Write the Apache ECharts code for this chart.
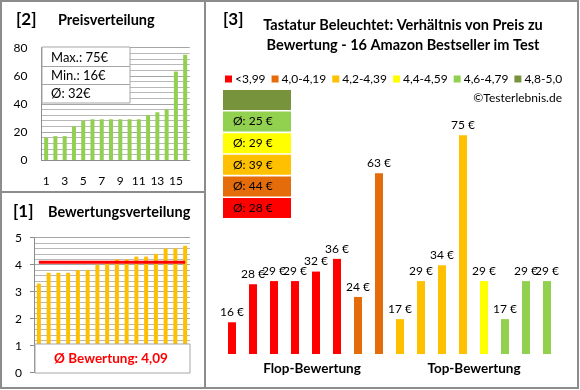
<!DOCTYPE html>
<html>
<head>
<meta charset="utf-8">
<script src="https://cdn.jsdelivr.net/npm/echarts@6/dist/echarts.min.js"></script>
<style>
html,body{margin:0;padding:0;background:#fff;}
#c{width:580px;height:390px;}
</style>
</head>
<body>
<div id="c"></div>
<script>
// ---- data ----
const rankCats = ['1','2','3','4','5','6','7','8','9','10','11','12','13','14','15','16'];
const sortedPrices = [16,17,17,24,28,29,29,29,29,29,29,32,34,36,63,75];
const sortedRatings = [3.3,3.7,3.7,3.7,3.8,3.8,4.0,4.1,4.2,4.2,4.3,4.3,4.4,4.6,4.6,4.7];
const avgRating = 4.09;
const priceStats = ['Max.: 75€','Min.: 16€','Ø: 32€'];
const ratingLabel = 'Ø Bewertung: 4,09';

const productPrices = [16,28,29,29,32,36,24,63,17,29,34,75,29,17,29,29];
const productClass  = [0,0,0,0,0,0,1,1,2,2,2,2,3,4,4,4];
const classNames  = ['<3,99','4,0-4,19','4,2-4,39','4,4-4,59','4,6-4,79','4,8-5,0'];
const classColors = ['#FF0000','#E46C0A','#FFC000','#FFFF00','#92D050','#77933C'];
const classAvgLabels = ['Ø: 28 €','Ø: 44 €','Ø: 39 €','Ø: 29 €','Ø: 25 €',''];

const titleLines = ['Tastatur Beleuchtet: Verhältnis von Preis zu','Bewertung - 16 Amazon Bestseller im Test'];

// ---- chart ----
const FONT = 'Lato';
const chart = echarts.init(document.getElementById('c'), null, {renderer:'canvas'});

const rightSeries = classNames.map((name, k) => ({
  name: name,
  type: 'bar',
  xAxisIndex: 2, yAxisIndex: 2,
  barWidth: 8,
  barGap: '-100%',
  itemStyle: {color: classColors[k]},
  label: {show: true, position: 'top', distance: 4, formatter: '{c} €',
          fontFamily: FONT, fontSize: 12, color: '#000'},
  data: productPrices.map((p, i) => productClass[i] === k ? p : null)
}));

const gridLine = {lineStyle: {color: '#A6A6A6', width: 1}};
const minorLine = {show: true, lineStyle: {color: '#B8B8B8', width: 1}};

const graphics = [];
// panel borders
graphics.push({type:'rect', shape:{x:1,y:1,width:577,height:387}, style:{fill:'none', stroke:'#8C8C8C', lineWidth:2}, z:100});
graphics.push({type:'line', shape:{x1:205,y1:1,x2:205,y2:388}, style:{stroke:'#8C8C8C', lineWidth:2}, z:100});
graphics.push({type:'line', shape:{x1:1,y1:192,x2:205,y2:192}, style:{stroke:'#8C8C8C', lineWidth:2}, z:100});
function txt(x, y, text, size, bold, align, color){
  return {type:'text', x:x, y:y, z:100, style:{text:text, fontFamily:FONT, fontSize:size,
    fontWeight: bold ? 'bold' : 'normal', fill: color || '#000', textAlign: align || 'left', textVerticalAlign:'middle'}};
}
graphics.push(txt(16, 20, '[2]', 17, true));
graphics.push(txt(58, 20, 'Preisverteilung', 14.5, true));
graphics.push(txt(13, 212, '[1]', 17, true));
graphics.push(txt(48, 212, 'Bewertungsverteilung', 14.5, true));
graphics.push(txt(223, 20, '[3]', 17, true));
graphics.push(txt(403, 25, titleLines[0], 14.5, true, 'center'));
graphics.push(txt(403, 45, titleLines[1], 14.5, true, 'center'));
graphics.push(txt(562, 98, '©Testerlebnis.de', 12, false, 'right'));
graphics.push(txt(312, 369, 'Flop-Bewertung', 13.5, true, 'center'));
graphics.push(txt(474, 369, 'Top-Bewertung', 13.5, true, 'center'));
// price stats box
graphics.push({type:'rect', shape:{x:42,y:47,width:88,height:56}, style:{fill:'#fff', stroke:'#A6A6A6', lineWidth:1}, z:50});
graphics.push({type:'line', shape:{x1:42,y1:66.5,x2:130,y2:66.5}, style:{stroke:'#A6A6A6', lineWidth:1}, z:51});
graphics.push({type:'line', shape:{x1:42,y1:84.5,x2:130,y2:84.5}, style:{stroke:'#A6A6A6', lineWidth:1}, z:51});
priceStats.forEach((s, i) => graphics.push(txt(51, 57.5 + i*18.3, s, 13, false)));
// rating box
graphics.push({type:'rect', shape:{x:35,y:344,width:155,height:29}, style:{fill:'#fff', stroke:'#A6A6A6', lineWidth:1}, z:50});
graphics.push(txt(111, 358.5, ratingLabel, 13.5, true, 'center', '#FF0000'));
// class average boxes (top to bottom: highest class first)
for (let j = 0; j < 6; j++) {
  const k = 5 - j;
  const y = 90 + j * 21.6;
  graphics.push({type:'rect', shape:{x:223,y:y,width:68,height:20}, style:{fill:classColors[k]}, z:50});
  if (classAvgLabels[k]) graphics.push(txt(233, y + 10, classAvgLabels[k], 12, false));
}

const option = {
  animation: false,
  backgroundColor: '#fff',
  textStyle: {fontFamily: FONT},
  legend: {
    left: 225, top: 73, padding: 0, width: 352, itemWidth: 7, itemHeight: 7, itemGap: 6, icon: 'rect',
    textStyle: {fontFamily: FONT, fontSize: 12, color: '#000', padding:[0,0,0,-2]},
    data: classNames
  },
  grid: [
    {left: 41.5, top: 47.7, width: 148.3, height: 112.3},
    {left: 34, top: 237.7, width: 156, height: 135},
    {left: 221.5, top: 119.4, width: 336, height: 234.6}
  ],
  xAxis: [
    {gridIndex:0, type:'category', data: rankCats,
     axisLine:{lineStyle:{color:'#8C8C8C'}}, axisTick:{show:false},
     axisLabel:{interval:1, fontFamily:FONT, fontSize:12, color:'#000', margin:15}},
    {gridIndex:1, type:'category', data: rankCats,
     axisLine:{show:false}, axisTick:{show:false}, axisLabel:{show:false}},
    {gridIndex:2, type:'category', data: rankCats,
     axisLine:{show:false}, axisTick:{show:false}, axisLabel:{show:false}}
  ],
  yAxis: [
    {gridIndex:0, type:'value', min:0, max:80, interval:20,
     axisLine:{show:true, lineStyle:{color:'#8C8C8C'}}, axisTick:{show:false},
     axisLabel:{fontFamily:FONT, fontSize:12, color:'#000', margin:14},
     splitLine: gridLine, minorTick:{show:false, splitNumber:5}, minorSplitLine: minorLine},
    {gridIndex:1, type:'value', min:0, max:5, interval:1,
     axisLine:{show:true, lineStyle:{color:'#8C8C8C'}}, axisTick:{show:true, length:4, lineStyle:{color:'#8C8C8C'}},
     axisLabel:{fontFamily:FONT, fontSize:12, color:'#000', margin:12},
     splitLine: gridLine, minorTick:{show:false, splitNumber:5}, minorSplitLine: minorLine},
    {gridIndex:2, type:'value', min:6, max:80, show:false, splitLine:{show:false}}
  ],
  series: [
    {type:'bar', xAxisIndex:0, yAxisIndex:0, barWidth:4, itemStyle:{color:'#92D050'}, data: sortedPrices},
    {type:'bar', xAxisIndex:1, yAxisIndex:1, barWidth:4, itemStyle:{color:'#FFC000'}, data: sortedRatings},
    {type:'line', xAxisIndex:1, yAxisIndex:1, symbol:'none', z:5,
     lineStyle:{color:'#FF0000', width:3}, data: rankCats.map(() => avgRating)}
  ].concat(rightSeries),
  graphic: graphics
};
chart.setOption(option);
</script>
</body>
</html>
